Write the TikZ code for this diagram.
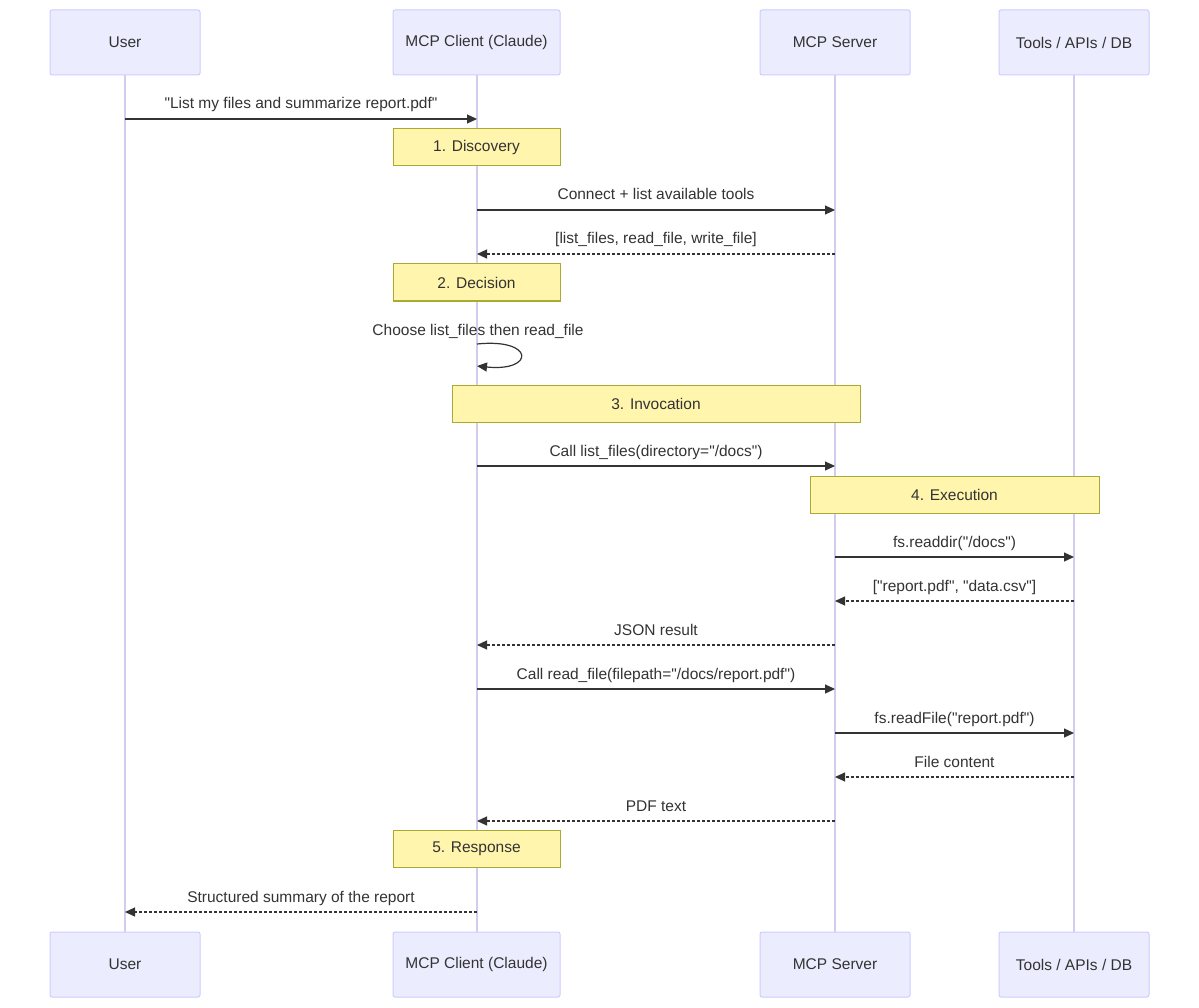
\documentclass[tikz,border=0pt]{standalone}
\usepackage{fontspec}
\setmainfont{Liberation Sans}[Ligatures=ResetAll]
\usetikzlibrary{arrows.meta}
\newcommand{\dq}{\textquotedbl}
\definecolor{actfill}{HTML}{ECECFF}
\definecolor{actline}{HTML}{CCCCFF}
\definecolor{life}{HTML}{D4CCEE}
\definecolor{notefill}{HTML}{FFF5AD}
\definecolor{noteline}{HTML}{AAAA33}
\definecolor{ink}{HTML}{333333}
\begin{document}
\begin{tikzpicture}[x=1pt, y=-1pt, font=\fontsize{15.5}{18}\selectfont, text=ink,
    actor/.style={draw=actline, fill=actfill, rounded corners=2pt, line width=1pt},
    note/.style={draw=noteline, fill=notefill, line width=1pt},
    lifeline/.style={draw=life, line width=1.5pt},
    msg/.style={-{Triangle[length=10pt,width=9pt]}, draw=ink, line width=1.2pt},
    reply/.style={msg, dash pattern=on 3pt off 2pt},
    lbl/.style={anchor=base, inner sep=0pt}]

      \useasboundingbox (0,0) rectangle (1199,1008);

      % lifelines
      \foreach \n/\x in {user/125, client/477, server/835, tools/1074} {
        \coordinate (\n top) at (\x,75);
        \coordinate (\n bot) at (\x,932);
        \draw[lifeline] (\n top) -- (\n bot);
      }

      % actors, top and bottom
      \foreach \n/\l/\r/\t in {user/50/200/User, client/393/560/MCP Client (Claude),
                               server/760/910/MCP Server, tools/999/1149/{Tools / APIs / DB}} {
        \draw[actor] (\l,10) rectangle (\r,75);
        \node (\n A) at ({(\l+\r)/2},42.5) {\t};
        \draw[actor] (\l,932) rectangle (\r,997);
        \node (\n B) at ({(\l+\r)/2},964.5) {\t};
      }

      % notes
      \foreach \i/\l/\r/\y/\t in {1/393/560/129/1. Discovery, 2/393/560/264/2. Decision,
                                  3/452/860/385/3. Invocation, 4/810/1099/476/4. Execution,
                                  5/393/560/830/5. Response} {
        \draw[note] (\l,\y) rectangle (\r,\y+37);
        \node (note\i) at ({(\l+\r)/2},\y+18.5) {\t};
      }

      % messages
      \foreach \i/\a/\b/\y/\s/\t in {
          1/125/477/119/msg/{\dq List my files and summarize report.pdf\dq},
          2/477/835/210/msg/{Connect + list available tools},
          3/835/477/254/reply/{[list\_files, read\_file, write\_file]},
          4/477/835/466/msg/{Call list\_files(directory=\dq/docs\dq)},
          5/835/1074/557/msg/{fs.readdir(\dq/docs\dq)},
          6/1074/835/601/reply/{[\dq report.pdf\dq, \dq data.csv\dq]},
          7/835/477/645/reply/{JSON result},
          8/477/835/689/msg/{Call read\_file(filepath=\dq/docs/report.pdf\dq)},
          9/835/1074/733/msg/{fs.readFile(\dq report.pdf\dq)},
          10/1074/835/777/reply/{File content},
          11/835/477/821/reply/{PDF text},
          12/477/125/912/reply/{Structured summary of the report}} {
        \coordinate (m\i a) at (\a,\y);
        \coordinate (m\i b) at (\b,\y);
        \draw[\s] (m\i a) -- (m\i b);
        \node[lbl] (l\i) at ({(\a+\b)/2},\y-10) {\t};
      }

      % self call
      \coordinate (self a) at (477,344);
      \coordinate (self b) at (477,366);
      \draw[msg] (self a) .. controls (535,338) and (535,372) .. (self b);
      \node[lbl] (lself) at (478,335) {Choose list\_files then read\_file};
    \end{tikzpicture}
\end{document}
